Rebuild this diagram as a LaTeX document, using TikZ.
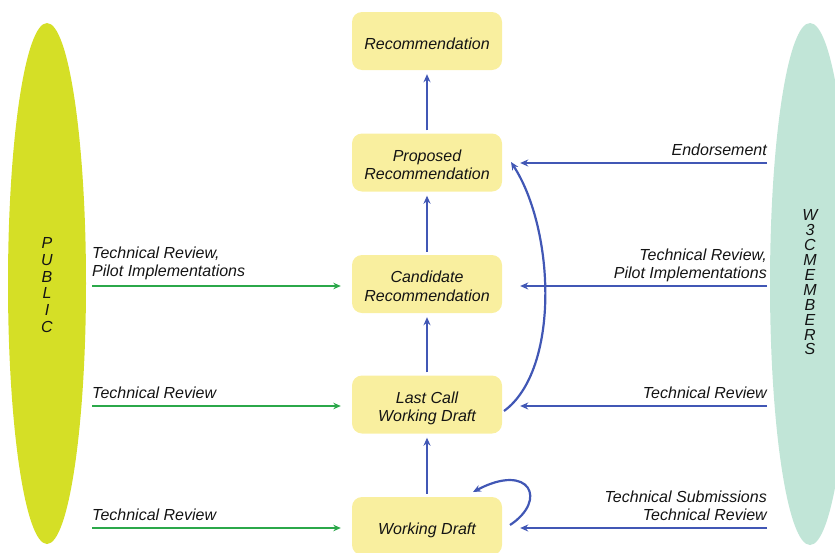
\documentclass[tikz,border=0pt]{standalone}
\usepackage{fontspec}
\setmainfont{Liberation Sans}
\usetikzlibrary{shapes.geometric,arrows.meta}
\definecolor{pubcol}{HTML}{D5DF26}
\definecolor{memcol}{HTML}{C1E5D7}
\definecolor{boxcol}{HTML}{F9EF9F}
\definecolor{bluecol}{HTML}{4157B5}
\definecolor{greencol}{HTML}{2BA84A}
\definecolor{txtcol}{HTML}{141414}
\newcommand{\stxt}[1]{\raisebox{-4.5pt}[\height][\depth]{\setlength{\tabcolsep}{0pt}\begin{tabular}{c}#1\end{tabular}}}
\tikzset{
  stagebox/.style={rectangle, rounded corners=10pt, fill=boxcol, minimum width=150pt, minimum height=58pt, inner sep=0pt, text=txtcol, font=\fontsize{16}{18.5}\selectfont\itshape},
  lbl/.style={inner sep=0pt, text=txtcol, font=\fontsize{16}{18.5}\selectfont\itshape},
  blueline/.style={draw=bluecol, line width=2.2pt, -{Stealth[length=8pt,width=7pt]}},
  greenline/.style={draw=greencol, line width=1.7pt, -{Stealth[length=7.5pt,width=6.5pt]}},
  vtext/.style={inner sep=0pt, align=center, text=txtcol}
}
\begin{document}
\begin{tikzpicture}[x=1pt,y=-1pt]
\useasboundingbox (0,0) rectangle (835,552);
\clip (0,0) rectangle (835,552);
% side ellipses
\node[ellipse, fill=pubcol, minimum width=78pt, minimum height=521pt, inner sep=0pt] (pub) at (47,283.5) {};
\node[ellipse, fill=memcol, minimum width=80pt, minimum height=522pt, inner sep=0pt] (mem) at (810,284) {};
\node[vtext, font=\fontsize{16}{16.8}\selectfont\itshape] (pubtxt) at (47,285) {P\\U\\B\\L\\I\\C};
\node[vtext, font=\fontsize{16}{14.9}\selectfont\itshape] (memtxt) at (810,282.5) {W\\3\\C\\M\\E\\M\\B\\E\\R\\S};
% stage boxes
\node[stagebox] (rec) at (427,41) {\stxt{Recommendation}};
\node[stagebox] (pr) at (427,162.5) {\stxt{Proposed\\Recommendation}};
\node[stagebox] (cr) at (427,284) {\stxt{Candidate\\Recommendation}};
\node[stagebox] (lc) at (427,404.5) {\stxt{Last Call\\Working Draft}};
\node[stagebox] (wd) at (427,526) {\stxt{Working Draft}};
% vertical arrows
\draw[blueline, shorten <=3pt, shorten >=4pt] (pr.north) -- (rec.south);
\draw[blueline, shorten <=3pt, shorten >=4pt] (cr.north) -- (pr.south);
\draw[blueline, shorten <=3pt, shorten >=4pt] (lc.north) -- (cr.south);
\draw[blueline, shorten <=3pt, shorten >=4pt] (wd.north) -- (lc.south);
% curved arrow last call -> proposed
\coordinate (lcout) at (504,411);
\coordinate (prin) at (511,162);
\draw[blueline] (lcout) .. controls (560,370) and (555,230) .. (prin);
% self loop on working draft
\coordinate (wdout) at (510,525);
\coordinate (wdin) at (473,492);
\draw[blueline] (wdout) .. controls (548,500) and (530,462) .. (wdin);
% left (public) inputs
\coordinate (l1) at (92,286);
\coordinate (l2) at (92,406);
\coordinate (l3) at (92,528);
\draw[greenline, shorten >=11pt] (l1) -- (l1 -| cr.west);
\draw[greenline, shorten >=11pt] (l2) -- (l2 -| lc.west);
\draw[greenline, shorten >=11pt] (l3) -- (l3 -| wd.west);
\node[lbl, anchor=base west] (lt1a) at (92,258) {Technical Review,};
\node[lbl, anchor=base west] (lt1b) at (92,276.5) {Pilot Implementations};
\node[lbl, anchor=base west] (lt2) at (92,398.5) {Technical Review};
\node[lbl, anchor=base west] (lt3) at (92,520.5) {Technical Review};
% right (members) inputs
\coordinate (r0) at (767,163);
\coordinate (r1) at (767,286);
\coordinate (r2) at (767,406);
\coordinate (r3) at (767,528);
\draw[blueline, shorten >=18pt] (r0) -- (r0 -| pr.east);
\draw[blueline, shorten >=18pt] (r1) -- (r1 -| cr.east);
\draw[blueline, shorten >=18pt] (r2) -- (r2 -| lc.east);
\draw[blueline, shorten >=18pt] (r3) -- (r3 -| wd.east);
\node[lbl, anchor=base east] (rt0) at (767,155.5) {Endorsement};
\node[lbl, anchor=base east] (rt1a) at (767,260) {Technical Review,};
\node[lbl, anchor=base east] (rt1b) at (767,278.5) {Pilot Implementations};
\node[lbl, anchor=base east] (rt2) at (767,398.5) {Technical Review};
\node[lbl, anchor=base east] (rt3a) at (767,502) {Technical Submissions};
\node[lbl, anchor=base east] (rt3b) at (767,520.5) {Technical Review};
\end{tikzpicture}
\end{document}
